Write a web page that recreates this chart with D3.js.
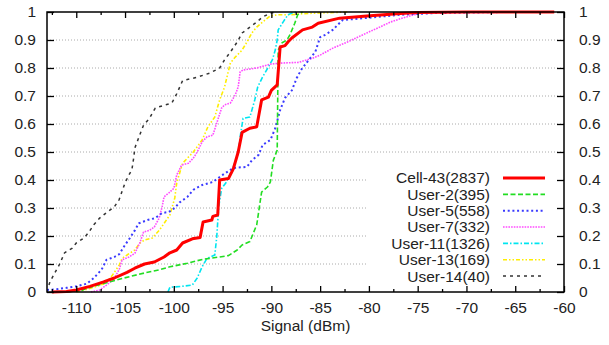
<!DOCTYPE html>
<html><head><meta charset="utf-8">
<script src="https://cdn.jsdelivr.net/npm/d3@7/dist/d3.min.js"></script>
<style>body{margin:0;background:#fff}svg{display:block;font-family:"Liberation Sans",Arial,Helvetica,sans-serif}</style>
</head><body><svg id="c" width="609" height="345"></svg>
<script>
// ---- data ----
const xTickValues = [-110,-105,-100,-95,-90,-85,-80,-75,-70,-65,-60];
const xMinorTicks = [-112.5,-107.5,-102.5,-97.5,-92.5,-87.5,-82.5,-77.5,-72.5,-67.5,-62.5];
const yTickValues = [0,0.1,0.2,0.3,0.4,0.5,0.6,0.7,0.8,0.9,1];
const yTickLabels = ["0","0.1","0.2","0.3","0.4","0.5","0.6","0.7","0.8","0.9","1"];
const xLabel = "Signal (dBm)";
const seriesNames = ["Cell-43(2837)","User-2(395)","User-5(558)","User-7(332)","User-11(1326)","User-13(169)","User-14(40)"];

const cell43 = [[-112.5,0],[-111,0.002],[-110,0.007],[-108.6,0.02],[-107.2,0.036],[-106.1,0.05],[-104.8,0.07],[-104,0.085],[-103,0.1],[-102,0.107],[-101,0.125],[-100.4,0.14],[-99.7,0.15],[-99.1,0.175],[-98.1,0.19],[-97.3,0.195],[-97,0.25],[-96.1,0.257],[-96,0.27],[-95.5,0.275],[-95.3,0.4],[-94.4,0.405],[-93.9,0.44],[-93.4,0.5],[-93,0.57],[-92.2,0.585],[-91.5,0.59],[-91,0.686],[-90.3,0.696],[-90,0.72],[-89.4,0.74],[-89.1,0.875],[-88.6,0.88],[-88.3,0.893],[-87.9,0.907],[-86.8,0.936],[-85.8,0.946],[-85.2,0.96],[-83,0.978],[-80.2,0.986],[-76.8,0.995],[-75,0.998],[-70,1],[-61,1]];
const user2 = [[-111,0],[-109.5,0.005],[-108.9,0.014],[-107.2,0.03],[-105.1,0.05],[-103,0.068],[-101.4,0.08],[-100.4,0.09],[-98.6,0.103],[-97,0.117],[-95.3,0.125],[-94.4,0.13],[-93.5,0.15],[-93,0.168],[-92.2,0.18],[-91.5,0.24],[-91,0.357],[-90.4,0.375],[-90.1,0.393],[-89.8,0.47],[-89.4,0.507],[-89.3,0.864],[-88.9,0.89],[-88.4,0.9],[-88.1,0.918],[-87.6,0.96],[-87.3,0.99],[-86.8,1]];
const user5 = [[-113,0.007],[-112,0.01],[-111,0.015],[-110,0.02],[-108.9,0.03],[-108.2,0.05],[-107.4,0.08],[-106.9,0.115],[-106.1,0.125],[-105.6,0.135],[-105,0.168],[-104.5,0.193],[-104,0.22],[-103.6,0.245],[-102.7,0.257],[-101.9,0.264],[-101.2,0.282],[-100.5,0.286],[-99.9,0.3],[-99.4,0.32],[-98.6,0.34],[-98,0.365],[-97.1,0.382],[-96,0.393],[-95,0.418],[-93.9,0.443],[-92.5,0.447],[-92,0.47],[-91.3,0.49],[-90.9,0.525],[-90.1,0.543],[-89.6,0.585],[-89.1,0.65],[-88.6,0.693],[-87.9,0.72],[-87.4,0.764],[-86.9,0.796],[-86,0.836],[-85.5,0.857],[-85,0.91],[-84.5,0.918],[-83.7,0.936],[-83.2,0.954],[-82.7,0.971],[-80.2,0.979],[-76.8,0.99],[-73.4,0.996],[-66,1]];
const user7 = [[-108.5,0],[-107.6,0.007],[-106.7,0.03],[-106.1,0.05],[-105.6,0.08],[-105.3,0.115],[-104.6,0.125],[-104,0.138],[-103.5,0.174],[-103.1,0.214],[-102.5,0.22],[-102,0.232],[-101.5,0.264],[-101.2,0.304],[-101,0.34],[-100.5,0.354],[-100,0.37],[-99.7,0.418],[-99.2,0.453],[-98.5,0.46],[-98,0.478],[-97.6,0.5],[-97.1,0.536],[-96.6,0.554],[-96,0.56],[-95.5,0.614],[-95.1,0.657],[-94.8,0.668],[-94.2,0.675],[-93.7,0.704],[-93.4,0.732],[-93.2,0.786],[-92.9,0.793],[-91.5,0.8],[-90.1,0.814],[-88.8,0.818],[-87.2,0.82],[-85.7,0.836],[-85,0.846],[-83.7,0.871],[-82.2,0.893],[-80.1,0.927],[-78.9,0.946],[-77.8,0.964],[-76.6,0.978],[-75.4,0.99],[-74.6,0.996],[-72,1]];
const user11 = [[-100.6,0],[-100.4,0.017],[-99.2,0.02],[-98.1,0.025],[-97.6,0.05],[-97.1,0.09],[-96.6,0.12],[-95.8,0.132],[-95.6,0.196],[-95.4,0.304],[-95.1,0.37],[-94.6,0.393],[-93.9,0.447],[-93.4,0.496],[-93.2,0.554],[-92.9,0.62],[-92.2,0.625],[-91.7,0.686],[-91.4,0.732],[-90.9,0.768],[-90.3,0.804],[-89.9,0.829],[-89.6,0.864],[-89.4,0.9],[-89.3,0.936],[-88.8,0.964],[-88.3,0.99],[-87.9,0.996],[-87.4,1]];
const user13 = [[-110,0],[-108.9,0.01],[-107.9,0.02],[-107.1,0.03],[-106.5,0.05],[-106.1,0.07],[-105.6,0.096],[-105.3,0.12],[-104.8,0.132],[-104,0.15],[-103.5,0.174],[-103,0.186],[-102.2,0.193],[-101.5,0.22],[-100.9,0.25],[-100.4,0.275],[-99.9,0.336],[-99.7,0.39],[-99.1,0.46],[-98,0.5],[-97.1,0.543],[-96.5,0.59],[-95.8,0.625],[-95.3,0.686],[-94.8,0.732],[-94.2,0.818],[-93.7,0.839],[-93,0.864],[-92.5,0.893],[-92,0.925],[-91.5,0.946],[-90.9,0.964],[-90.1,0.986],[-89.4,0.99],[-88.1,0.99],[-87.1,0.993],[-85.5,0.996],[-82,1]];
const user14 = [[-112.8,0.025],[-112.7,0.036],[-112.2,0.068],[-111.7,0.1],[-111.2,0.14],[-110.4,0.157],[-110,0.175],[-109.2,0.193],[-108.7,0.214],[-108.2,0.24],[-107.6,0.264],[-106.8,0.286],[-106.1,0.304],[-105.6,0.33],[-105,0.39],[-104.6,0.418],[-104.3,0.436],[-104.1,0.482],[-104,0.514],[-103.5,0.56],[-103.1,0.596],[-102.5,0.62],[-101.9,0.657],[-100.9,0.668],[-100.2,0.675],[-99.7,0.708],[-99.1,0.755],[-97.7,0.766],[-96.3,0.782],[-95.3,0.8],[-94.8,0.829],[-94.2,0.857],[-93.5,0.893],[-93,0.925],[-92.2,0.946],[-91.5,0.964],[-90.9,0.982],[-90.1,0.996],[-89.6,1]];

const seriesData = [cell43,user2,user5,user7,user11,user13,user14];
const seriesColors = ["#ff0000","#22dd22","#3a3aff","#ff4cff","#00e5f0","#ffee00","#333333"];
const seriesDash = [null,"5,2.5","2,2.7","1.6,1.1","5,2,1.5,2","4,2,1.5,2,1.5,2","3,4"];
const seriesWidth = [3,1.6,2,1.6,1.6,1.6,1.5];

// ---- layout ----
const svg = d3.select("#c");
const L = 47, R = 564, T = 12, B = 292;
const x = d3.scaleLinear().domain([-113,-60]).range([L,R]);
const y = d3.scaleLinear().domain([0,1]).range([B,T]);
const FS = 15.5;

// grid
const grid = svg.append("g").attr("stroke","#aaaaaa").attr("stroke-dasharray","1,2").attr("stroke-width",1);
grid.selectAll("line.v").data(xTickValues.filter(v=>v>-60)).join("line").attr("class","v")
  .attr("x1",d=>x(d)).attr("x2",d=>x(d)).attr("y1",T).attr("y2",B);
grid.selectAll("line.h").data(yTickValues.filter(v=>v>0&&v<1)).join("line").attr("class","h")
  .attr("x1",L).attr("x2",R).attr("y1",d=>y(d)).attr("y2",d=>y(d));

// legend background (opaque key)
svg.append("rect").attr("x",366).attr("y",169).attr("width",R-366-1).attr("height",B-169-1).attr("fill","#fff");

// curves
const line = d3.line().x(d=>x(d[0])).y(d=>y(d[1]));
const order = [6,5,4,3,2,1,0];
order.forEach(i=>{
  svg.append("path").datum(seriesData[i]).attr("d",line).attr("fill","none")
    .attr("stroke",seriesColors[i]).attr("stroke-width",seriesWidth[i])
    .attr("stroke-dasharray",seriesDash[i]).attr("stroke-linejoin","round");
});

// axes
function styleAxis(g){ g.select(".domain").remove(); g.selectAll("line").attr("stroke","#000").attr("stroke-width",1.3);
  g.selectAll("text").attr("font-size",FS).attr("font-family","Liberation Sans, Arial, sans-serif").attr("fill","#222"); }
svg.append("g").attr("transform",`translate(0,${B})`)
  .call(d3.axisBottom(x).tickValues(xTickValues).tickSizeInner(-6).tickSizeOuter(0).tickPadding(10).tickFormat(d=>d))
  .call(styleAxis);
svg.append("g").attr("transform",`translate(0,${B})`)
  .call(d3.axisBottom(x).tickValues(xMinorTicks).tickSizeInner(-3).tickSizeOuter(0).tickFormat(""))
  .call(styleAxis);
svg.append("g").attr("transform",`translate(0,${T})`)
  .call(d3.axisTop(x).tickValues(xTickValues).tickSizeInner(-6).tickSizeOuter(0).tickFormat(""))
  .call(styleAxis);
svg.append("g").attr("transform",`translate(0,${T})`)
  .call(d3.axisTop(x).tickValues(xMinorTicks).tickSizeInner(-3).tickSizeOuter(0).tickFormat(""))
  .call(styleAxis);
svg.append("g").attr("transform",`translate(${L},0)`)
  .call(d3.axisLeft(y).tickValues(yTickValues).tickSizeInner(-7).tickSizeOuter(0).tickPadding(11).tickFormat((d,i)=>yTickLabels[i]))
  .call(styleAxis);
svg.append("g").attr("transform",`translate(${R},0)`)
  .call(d3.axisRight(y).tickValues(yTickValues).tickSizeInner(-7).tickSizeOuter(0).tickPadding(15).tickFormat((d,i)=>yTickLabels[i]))
  .call(styleAxis);

// frame
svg.append("rect").attr("x",L).attr("y",T).attr("width",R-L).attr("height",B-T)
  .attr("fill","none").attr("stroke","#000").attr("stroke-width",1.5);

// x label
svg.append("text").attr("x",(L+R)/2).attr("y",331).attr("text-anchor","middle")
  .attr("font-size",FS).attr("fill","#222").text(xLabel);

// legend
const leg = svg.append("g");
seriesNames.forEach((n,i)=>{
  const yy = 178 + i*16.35;
  leg.append("text").attr("x",490).attr("y",yy).attr("dy","0.35em").attr("text-anchor","end")
    .attr("font-size",FS).attr("fill","#222").text(n);
  leg.append("line").attr("x1",503).attr("x2",545).attr("y1",yy).attr("y2",yy)
    .attr("stroke",seriesColors[i]).attr("stroke-width",seriesWidth[i]).attr("stroke-dasharray",seriesDash[i]);
});
</script></body></html>
